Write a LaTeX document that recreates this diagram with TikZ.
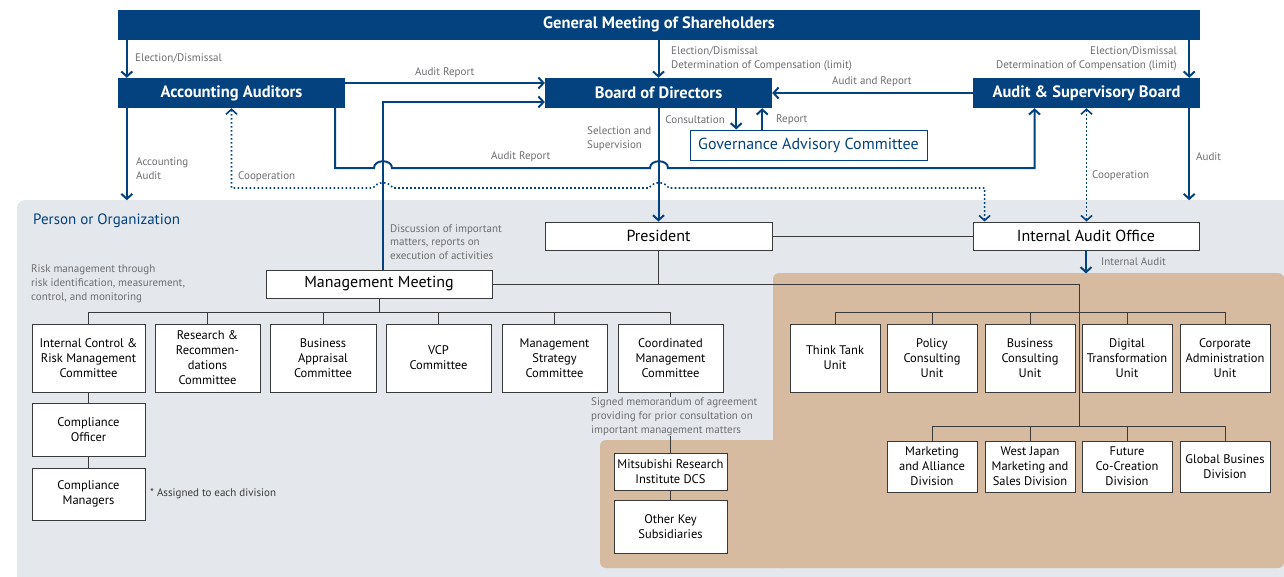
\documentclass[tikz,border=0pt]{standalone}
\usepackage{fontspec}
\setmainfont{PT Sans}
\usetikzlibrary{arrows.meta,positioning,calc}
\definecolor{navy}{HTML}{03427F}
\definecolor{pane}{HTML}{E4E7EB}
\definecolor{tan}{HTML}{D7BBA0}
\definecolor{labgray}{HTML}{6D6E71}
\definecolor{boxline}{HTML}{3A3A3A}
\begin{document}
\begin{tikzpicture}[x=1pt,y=-1pt,>={Straight Barb[length=5pt,width=11pt]},
 topbox/.style={fill=navy,text=white,font=\fontsize{16.5}{19}\selectfont\bfseries,minimum height=30pt,inner sep=0pt},
 orgbox/.style={draw=boxline,fill=white,line width=.9pt,align=center,font=\fontsize{12.5}{15}\selectfont,inner sep=1pt},
 bigbox/.style={orgbox,minimum height=28pt,font=\fontsize{16}{19}\selectfont},
 lab/.style={text=labgray,font=\fontsize{11}{13.8}\selectfont,inner sep=0pt,align=left},
 link/.style={draw=navy,line width=2pt},
 coop/.style={draw=navy,line width=1.6pt,dash pattern=on 1.6pt off 2.4pt},
 org/.style={draw=boxline,line width=.9pt}]
\useasboundingbox (0,0) rectangle (1284,576);
\fill[white] (0,0) rectangle (1284,576);
% background panes
\fill[pane,rounded corners=8pt] (17,200) rectangle (1300,590);
\fill[tan,rounded corners=6pt] (773,273) rectangle (1284,568);
\fill[tan,rounded corners=6pt] (600,440) rectangle (790,568);
\node[text=navy,font=\fontsize{15}{18}\selectfont,inner sep=0pt,anchor=west] (poo) at (33,221) {Person or Organization};
% governance
\node[topbox,minimum width=1082pt] (gm) at (659,24.5) {General Meeting of Shareholders};
\node[topbox,minimum width=227pt] (aa) at (231.5,93) {Accounting Auditors};
\node[topbox,minimum width=227pt] (bod) at (658.5,93) {Board of Directors};
\node[topbox,minimum width=227pt] (asb) at (1086.5,93) {Audit \& Supervisory Board};
\node[draw=navy,fill=white,line width=1pt,text=navy,font=\fontsize{16}{19}\selectfont,
 minimum width=237pt,minimum height=30pt,inner sep=0pt] (gac) at (808.5,145) {Governance Advisory Committee};
% executive
\node[bigbox,minimum width=227pt] (pres) at (658.5,236) {President};
\node[bigbox,minimum width=226pt] (iao) at (1086,236) {Internal Audit Office};
\node[bigbox,minimum width=226pt] (mm) at (379,284) {Management Meeting};
% committees
\node[orgbox,minimum width=113pt,minimum height=68pt] (icr) at (88.5,358) {Internal Control \&\\Risk Management\\Committee};
\node[orgbox,minimum width=105pt,minimum height=68pt] (rrc) at (207.5,358) {Research \&\\Recommen-\\dations\\Committee};
\node[orgbox,minimum width=106pt,minimum height=68pt] (bac) at (323,358) {Business\\Appraisal\\Committee};
\node[orgbox,minimum width=105pt,minimum height=68pt] (vcp) at (438.5,358) {VCP\\Committee};
\node[orgbox,minimum width=105pt,minimum height=68pt] (msc) at (554.5,358) {Management\\Strategy\\Committee};
\node[orgbox,minimum width=105pt,minimum height=68pt] (cmc) at (670.5,358) {Coordinated\\Management\\Committee};
\node[orgbox,minimum width=113pt,minimum height=53pt] (co) at (88.5,429.5) {Compliance\\Officer};
\node[orgbox,minimum width=113pt,minimum height=52pt] (cm) at (88.5,494) {Compliance\\Managers};
\node[orgbox,minimum width=113pt,minimum height=37pt] (dcs) at (670.5,471.5) {Mitsubishi Research\\Institute DCS};
\node[orgbox,minimum width=113pt,minimum height=53pt] (oks) at (670.5,526.5) {Other Key\\Subsidiaries};
% units
\node[orgbox,minimum width=90pt,minimum height=68pt] (ttu) at (835,358) {Think Tank\\Unit};
\node[orgbox,minimum width=90pt,minimum height=68pt] (pcu) at (932,358) {Policy\\Consulting\\Unit};
\node[orgbox,minimum width=90pt,minimum height=68pt] (bcu) at (1030,358) {Business\\Consulting\\Unit};
\node[orgbox,minimum width=90pt,minimum height=68pt] (dtu) at (1127,358) {Digital\\Transformation\\Unit};
\node[orgbox,minimum width=90pt,minimum height=68pt] (cau) at (1225,358) {Corporate\\Administration\\Unit};
% divisions
\node[orgbox,minimum width=90pt,minimum height=51pt] (mad) at (932,466.5) {Marketing\\and Alliance\\Division};
\node[orgbox,minimum width=90pt,minimum height=51pt] (wjd) at (1030,466.5) {West Japan\\Marketing and\\Sales Division};
\node[orgbox,minimum width=90pt,minimum height=51pt] (fcd) at (1127,466.5) {Future\\Co-Creation\\Division};
\node[orgbox,minimum width=90pt,minimum height=51pt] (gbd) at (1225,466.5) {Global Busines\\Division};
% bus levels
\coordinate (cbus) at (0,312);
\coordinate (ubus) at (0,312);
\coordinate (tbus) at (0,284);
\coordinate (spine) at (1079,426);
% organisation lines
\draw[org] (mm.south) -- (mm.south |- cbus);
\draw[org] (icr.north) -- (icr.north |- cbus) -| (cmc.north);
\draw[org] (rrc.north) -- (rrc.north |- cbus);
\draw[org] (bac.north) -- (bac.north |- cbus);
\draw[org] (vcp.north) -- (vcp.north |- cbus);
\draw[org] (msc.north) -- (msc.north |- cbus);
\draw[org] (icr) -- (co); \draw[org] (co) -- (cm);
\draw[org] (cmc) -- (dcs); \draw[org] (dcs) -- (oks);
\draw[org] (pres.south) -- (pres.south |- tbus);
\draw[org] (mm.east) -- (mm.east -| spine) -- (spine);
\draw[org] (ttu.north) -- (ttu.north |- ubus) -| (cau.north);
\draw[org] (pcu.north) -- (pcu.north |- ubus);
\draw[org] (bcu.north) -- (bcu.north |- ubus);
\draw[org] (dtu.north) -- (dtu.north |- ubus);
\draw[org] (mad.north) -- (mad.north |- spine) -| (gbd.north);
\draw[org] (wjd.north) -- (wjd.north |- spine);
\draw[org] (fcd.north) -- (fcd.north |- spine);
\draw[org] (pres.east) -- (iao.west);
% governance links
\draw[link,->] ([xshift=9pt]gm.south west) -- ([xshift=9pt]aa.north west);
\draw[link,->] (bod.north |- gm.south) -- (bod.north);
\draw[link,->] ([xshift=-11pt]gm.south east) -- ([xshift=-11pt]asb.north east);
\draw[link,->] ([yshift=10pt]aa.east) -- ([yshift=10pt]bod.west);
\draw[link,->] ([xshift=4pt]mm.north) |- ([yshift=-9pt]bod.west);
\draw[link,->] (asb.west) -- (bod.east);
\draw[link,->] ([xshift=-36pt]bod.south east) -- ([xshift=-36pt]bod.south east |- gac.north);
\draw[link,<-] ([xshift=-10pt]bod.south east) -- ([xshift=-10pt]bod.south east |- gac.north);
\draw[link,->] (bod.south) -- (pres.north);
\draw[link,->] ([xshift=9pt]aa.south west) -- ++(0,92);
\draw[link,->] ([xshift=-11pt]asb.south east) -- ++(0,92);
\draw[link,->] ([xshift=-10pt]aa.south east) |- (374,168) .. controls (374,159) and (392,159) .. (392,168)
 -- (650,168) .. controls (650,159) and (668,159) .. (668,168) -| ([xshift=-52pt]asb.south);
\draw[coop,<->] (aa.south) |- (373,188) .. controls (378,181) and (388,181) .. (393,188)
 -- (649,188) .. controls (654,181) and (664,181) .. (669,188) -| ([xshift=12pt]iao.north west);
\draw[coop,<->] (asb.south) -- (asb.south |- iao.north);
\draw[link,->] (iao.south) -- ++(0,23);
% labels
\node[lab,anchor=west] (l1) at (135,58) {Election/Dismissal};
\node[lab,anchor=west] (l2) at (671,58.5) {Election/Dismissal\\Determination of Compensation (limit)};
\node[lab,anchor=east,align=right] (l3) at (1177,58.5) {Election/Dismissal\\Determination of Compensation (limit)};
\node[lab,anchor=west] (l4) at (415,73) {Audit Report};
\node[lab,anchor=west] (l5) at (832,82) {Audit and Report};
\node[lab,anchor=east] (l6) at (725,120) {Consultation};
\node[lab,anchor=west] (l7) at (776,120) {Report};
\node[lab,anchor=west] (l8) at (587,138.5) {Selection and\\Supervision};
\node[lab,anchor=west] (l9) at (491,157) {Audit Report};
\node[lab,anchor=west] (l10) at (136,169) {Accounting\\Audit};
\node[lab,anchor=west] (l11) at (238,177) {Cooperation};
\node[lab,anchor=west] (l12) at (1196,157) {Audit};
\node[lab,anchor=west] (l13) at (1092,176) {Cooperation};
\node[lab,anchor=west] (l14) at (1101,262) {Internal Audit};
\node[lab,anchor=west] (l15) at (390,242) {Discussion of important\\matters, reports on\\execution of activities};
\node[lab,anchor=west] (l16) at (31,284) {Risk management through\\risk identification, measurement,\\control, and monitoring};
\node[lab,anchor=west,fill=pane,inner ysep=1pt] (l17) at (591,416.5) {Signed memorandum of agreement\\providing for prior consultation on\\important management matters};
\node[lab,anchor=west,text=boxline] (l18) at (150,494) {* Assigned to each division};
\end{tikzpicture}
\end{document}
